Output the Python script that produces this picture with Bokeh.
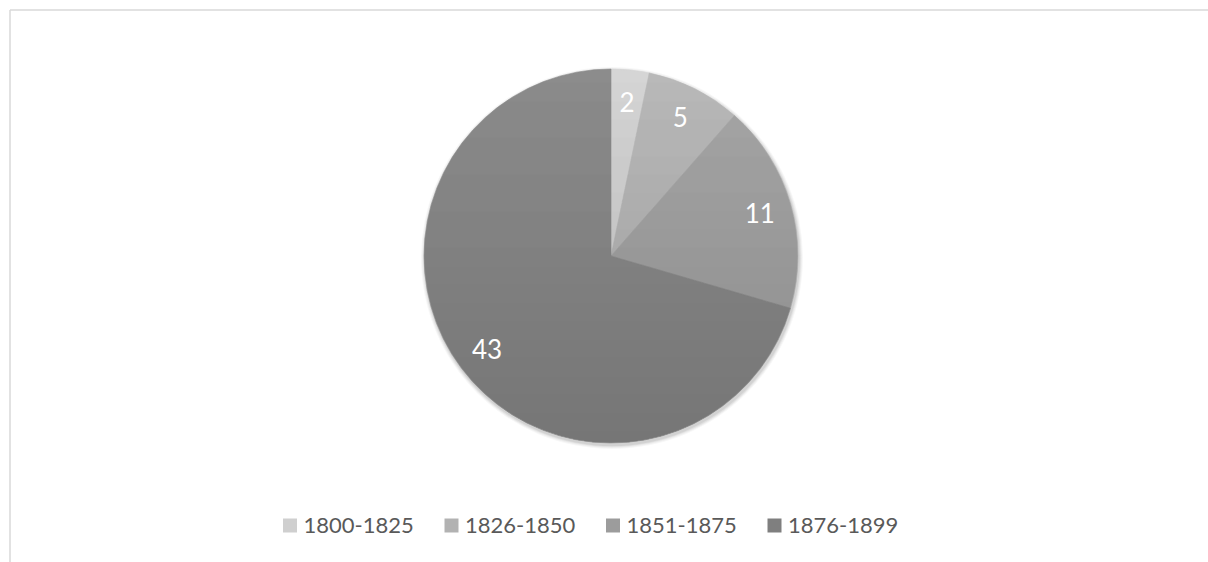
import numpy as np
from bokeh.plotting import figure
from bokeh.models import Range1d
from bokeh.core.properties import value
from bokeh.embed import file_html
from bokeh.resources import INLINE

# ---- data ----
periods = ["1800-1825", "1826-1850", "1851-1875", "1876-1899"]
counts = [2, 5, 11, 43]
slice_colors = ["#d5d5d5", "#b9b9b9", "#a6a6a6", "#8c8c8c"]
legend_colors = ["#cfcfcf", "#b2b2b2", "#9c9c9c", "#7f7f7f"]
label_texts = [str(c) for c in counts]

W, H = 1208, 562
p = figure(width=W, height=H, x_range=Range1d(0, W), y_range=Range1d(0, H),
           output_backend="svg", toolbar_location=None,
           x_axis_location=None, y_axis_location=None, min_border=0,
           outline_line_color=None, background_fill_color="white",
           border_fill_color="white")
p.xgrid.visible = False
p.ygrid.visible = False

# chart-area border (only top and left edges are inside the window)
p.segment(x0=[9.5, 9.5], y0=[0, H - 9.5], x1=[9.5, W], y1=[H - 9.5, H - 9.5],
          line_color="#d9d9d9", line_width=1.5)

cx, cy, R = 610.5, H - 255.5, 187.0

# soft shadow
for k, a in [(4, 0.03), (3, 0.04), (2, 0.05), (1, 0.06)]:
    p.circle(x=[cx + 1], y=[cy - 2], radius=R + k, fill_color="black",
             fill_alpha=a, line_color=None)

vals = np.array(counts, dtype=float)
frac = vals / vals.sum()
cum_after = np.cumsum(frac)
cum_before = cum_after - frac
start = np.pi / 2 - 2 * np.pi * cum_before
end = np.pi / 2 - 2 * np.pi * cum_after

p.wedge(x=cx, y=cy, radius=R, start_angle=start, end_angle=end,
        direction="clock", fill_color=slice_colors, line_color=slice_colors,
        line_width=0.6)

# vertical gradient shading overlay (darker toward the bottom)
top_row = int(np.floor((H - cy) - R))
bot_row = int(np.ceil((H - cy) + R))
ys, lefts, rights, alphas = [], [], [], []
for i in range(top_row, bot_row + 1):
    yd = H - (i + 0.5)
    dy = yd - cy
    if abs(dy) >= R - 0.5:
        continue
    half = np.sqrt(R * R - dy * dy) - 0.6
    ys.append(yd)
    lefts.append(cx - half)
    rights.append(cx + half)
    alphas.append(0.16 * (i - top_row) / (2 * R))
p.hbar(y=ys, height=1, left=lefts, right=rights, fill_color="black",
       fill_alpha=alphas, line_color=None)

# data labels
mid = (start + end) / 2
lr = 155
lx = cx + lr * np.cos(mid)
ly = cy + lr * np.sin(mid)
p.text(x=lx, y=ly, text=label_texts, text_align="center",
       text_baseline="middle", text_color="white",
       text_font=value("Lato"), text_font_size="26px")

# legend
idx = np.arange(len(periods))
sq_left = 282.5 + idx * 161.5
leg_y = H - 525
p.rect(x=sq_left + 7, y=leg_y, width=14, height=14, fill_color=legend_colors,
       line_color=None)
p.text(x=sq_left + 20.5, y=leg_y, text=periods, text_align="left",
       text_baseline="middle", text_color="#595959",
       text_font=value("Lato"), text_font_size="22px")

open("out.html", "w").write(file_html(p, INLINE))
